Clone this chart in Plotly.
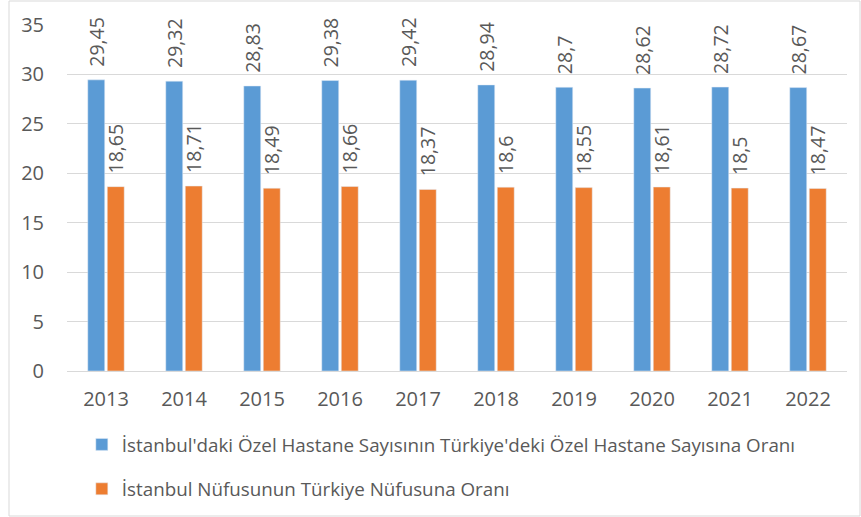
import plotly.graph_objects as go

years = ["2013", "2014", "2015", "2016", "2017", "2018", "2019", "2020", "2021", "2022"]
hastane_orani = [29.45, 29.32, 28.83, 29.38, 29.42, 28.94, 28.7, 28.62, 28.72, 28.67]
nufus_orani = [18.65, 18.71, 18.49, 18.66, 18.37, 18.6, 18.55, 18.61, 18.5, 18.47]

name1 = "İstanbul'daki Özel Hastane Sayısının Türkiye'deki Özel Hastane Sayısına Oranı"
name2 = "İstanbul Nüfusunun Türkiye Nüfusuna Oranı"

font_family = "Open Sans, Liberation Sans, sans-serif"
gray = "#595959"

def lbl(vals):
    # leading no-break spaces keep the label a little above the bar, as in the original
    return ["\u00a0\u00a0" + str(v).replace(".", ",") for v in vals]

fig = go.Figure()
fig.add_trace(go.Bar(x=years, y=hastane_orani, name=name1, marker_color="#5B9BD5",
                     text=lbl(hastane_orani), textposition="outside", textangle=-90,
                     constraintext="none", textfont=dict(size=19.5, color=gray),
                     cliponaxis=False, legendgroup="a"))
fig.add_trace(go.Bar(x=years, y=nufus_orani, name=name2, marker_color="#ED7D31",
                     text=lbl(nufus_orani), textposition="outside", textangle=-90,
                     constraintext="none", textfont=dict(size=19.5, color=gray),
                     cliponaxis=False, legendgroup="b"))

fig.update_layout(
    width=861, height=517,
    margin=dict(l=67, r=14, t=25, b=146, autoexpand=False),
    paper_bgcolor="white", plot_bgcolor="white",
    font=dict(family=font_family, color=gray, size=16),
    barmode="group", bargap=0.5, bargroupgap=0.13,
    showlegend=True,
    legend=dict(orientation="v", x=0.019, y=-0.158, xanchor="left", yanchor="top",
                font=dict(size=18.8, color=gray), tracegroupgap=17, traceorder="grouped"),
    shapes=[dict(type="rect", xref="paper", yref="paper",
                 x0=-67/780 + 9/780, x1=1 + 13/780, y0=-146/346 + 1/346, y1=1 + 24/346,
                 line=dict(color="#d9d9d9", width=1), layer="below")],
)
fig.update_xaxes(showgrid=False, showline=False, ticks="", tickfont=dict(size=20, color=gray),
                 ticklabelstandoff=14)
fig.update_yaxes(range=[0, 35], dtick=5, showgrid=True, gridcolor="#d9d9d9", gridwidth=1,
                 zeroline=True, zerolinecolor="#d9d9d9", zerolinewidth=1,
                 tickfont=dict(size=20, color=gray), ticklabelstandoff=22)

fig.write_html("out.html", config={"displayModeBar": False},
               post_script="document.body.style.margin='0';")
